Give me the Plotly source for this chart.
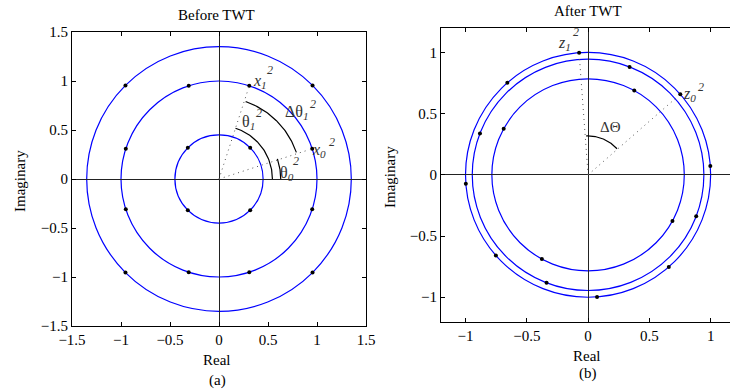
import numpy as np
import plotly.graph_objects as go

# ---------------- data ----------------
# (a) Before TWT
a_circle_radii = [0.45, 1.0, 1.35]
a_point_radius = [0.45, 0.45, 0.45, 0.45,
                  1.0, 1.0, 1.0, 1.0, 1.0, 1.0, 1.0, 1.0,
                  1.35, 1.35, 1.35, 1.35]
a_point_angle = [45, 135, 225, 315,
                 18, 72, 108, 162, 198, 252, 288, 342,
                 45, 135, 225, 315]
a_ray_angle = [18, 72]          # dotted rays to x0^2, x1^2
a_ray_len = [0.97, 0.97]
a_arc_radius = [0.545, 0.63, 0.835]   # theta1, theta0, dtheta1
a_arc_start = [0, 0, 19]
a_arc_end = [72, 19, 71]

# (b) After TWT
b_circle_radii = [0.785, 0.945, 1.0]
b_point_radius = [1.0] * 8 + [0.945] * 4 + [0.785] * 4
b_point_angle = [4.2, 41.2, 94.2, 131.2, 184.2, 221.2, 274.2, 311.2,
                 69, 159, 249, 339,
                 61.3, 151.3, 241.3, 331.3]
b_ray_angle = [41.2, 94.2]
b_ray_len = [0.96, 0.97]
b_arc_radius = [0.318]
b_arc_start = [42]
b_arc_end = [93]

a_ticks = [-1.5, -1, -0.5, 0, 0.5, 1, 1.5]
a_ticktext = ["\u22121.5", "\u22121", "\u22120.5", "0", "0.5", "1", "1.5"]
b_ticks = [-1, -0.5, 0, 0.5, 1]
b_ticktext = ["\u22121", "\u22120.5", "0", "0.5", "1"]

# ---------------- figure ----------------
FONT = "Liberation Serif"
W, H = 730, 390
BLUE = "#0000ff"
fig = go.Figure()


def polar(r, ang):
    r = np.asarray(r, float)
    t = np.deg2rad(np.asarray(ang, float))
    return r * np.cos(t), r * np.sin(t)


def add_panel(xa, ya, radii, pr, pa, ray_ang, ray_len, arc_r, arc_s, arc_e):
    for r in radii:
        fig.add_shape(type="circle", xref=xa, yref=ya, x0=-r, y0=-r, x1=r, y1=r,
                      line=dict(color=BLUE, width=1.2), layer="below")
    for ang, ln in zip(ray_ang, ray_len):
        x, y = polar([0, ln], [ang, ang])
        fig.add_trace(go.Scatter(x=x, y=y, mode="lines", xaxis=xa, yaxis=ya,
                                 line=dict(color="#555", width=1, dash="1px,4px"),
                                 hoverinfo="skip", showlegend=False))
    for r, s, e in zip(arc_r, arc_s, arc_e):
        t = np.linspace(s, e, 60)
        x, y = polar(np.full_like(t, r), t)
        fig.add_trace(go.Scatter(x=x, y=y, mode="lines", xaxis=xa, yaxis=ya,
                                 line=dict(color="black", width=1.2),
                                 hoverinfo="skip", showlegend=False))
    x, y = polar(pr, pa)
    fig.add_trace(go.Scatter(x=x, y=y, mode="markers", xaxis=xa, yaxis=ya,
                             marker=dict(color="black", size=4),
                             showlegend=False))


add_panel("x", "y", a_circle_radii, a_point_radius, a_point_angle,
          a_ray_angle, a_ray_len, a_arc_radius, a_arc_start, a_arc_end)
add_panel("x2", "y2", b_circle_radii, b_point_radius, b_point_angle,
          b_ray_angle, b_ray_len, b_arc_radius, b_arc_start, b_arc_end)

TICK = 15
axis_common = dict(showgrid=False, zeroline=True, zerolinecolor="#222",
                   zerolinewidth=1, showline=True, linecolor="black",
                   linewidth=1, ticks="inside", ticklen=4, tickcolor="black",
                   tickfont=dict(family=FONT, size=TICK, color="black"),
                   automargin=False, fixedrange=True)

fig.update_layout(
    width=W, height=H, margin=dict(l=0, r=0, t=0, b=0, autoexpand=False),
    paper_bgcolor="white", plot_bgcolor="white",
    font=dict(family=FONT, size=TICK, color="black"),
    xaxis=dict(axis_common, domain=[72 / W, 366 / W], range=[-1.5, 1.5],
               tickmode="array", tickvals=a_ticks, ticktext=a_ticktext,
               mirror="ticks", anchor="y"),
    yaxis=dict(axis_common, domain=[1 - 326 / H, 1 - 32 / H], range=[-1.5, 1.5],
               tickmode="array", tickvals=a_ticks, ticktext=a_ticktext,
               mirror="ticks", anchor="x"),
    xaxis2=dict(axis_common, domain=[441 / W, 1.0], range=[-1.2, 1.158],
                tickmode="array", tickvals=b_ticks, ticktext=b_ticktext,
                mirror="ticks", anchor="y2"),
    yaxis2=dict(axis_common, domain=[1 - 321.7 / H, 1 - 28 / H], range=[-1.2, 1.2],
                tickmode="array", tickvals=b_ticks, ticktext=b_ticktext,
                mirror=False, anchor="x2"),
)


def ann(text, x, y, xref="paper", yref="paper", size=TICK, angle=0, color="black"):
    fig.add_annotation(text=text, x=x, y=y, xref=xref, yref=yref, showarrow=False,
                       textangle=angle, xanchor="center", yanchor="middle",
                       font=dict(family=FONT, size=size, color=color))


# titles & axis labels (paper pixel positions)
ann("Before TWT", 216.7 / W, 1 - 15 / H, size=15)
ann("After TWT", 588.3 / W, 1 - 11 / H, size=15)
ann("Real", 216.7 / W, 1 - 360 / H)
ann("(a)", 217 / W, 1 - 380 / H)
ann("Real", 586.7 / W, 1 - 356 / H)
ann("(b)", 587.7 / W, 1 - 373 / H)
ann("Imaginary", 20 / W, 1 - 181 / H, angle=-90)
ann("Imaginary", 390 / W, 1 - 177 / H, angle=-90)

LBL = "#333"
BIG, SUP = 16, 12
# panel (a) symbol labels
ann("<i>x</i><sub><i>1</i></sub>", 0.42, 1.00, "x", "y", size=BIG, color=LBL)
ann("<i>2</i>", 0.52, 1.11, "x", "y", size=SUP, color=LBL)
ann("\u0394\u03b8<sub><i>1</i></sub>", 0.80, 0.68, "x", "y", size=BIG, color=LBL)
ann("<i>2</i>", 0.96, 0.77, "x", "y", size=SUP, color=LBL)
ann("\u03b8<sub><i>1</i></sub>", 0.30, 0.58, "x", "y", size=BIG, color=LBL)
ann("<i>2</i>", 0.41, 0.67, "x", "y", size=SUP, color=LBL)
ann("\u03b8<sub><i>0</i></sub>", 0.69, 0.06, "x", "y", size=BIG, color=LBL)
ann("<i>2</i>", 0.79, 0.18, "x", "y", size=SUP, color=LBL)
ann("<i>x</i><sub><i>0</i></sub>", 1.02, 0.29, "x", "y", size=BIG, color=LBL)
ann("<i>2</i>", 1.15, 0.38, "x", "y", size=SUP, color=LBL)

# panel (b) symbol labels
ann("<i>z</i><sub><i>1</i></sub>", -0.19, 1.07, "x2", "y2", size=BIG, color=LBL)
ann("<i>2</i>", -0.095, 1.166, "x2", "y2", size=SUP, color=LBL)
ann("<i>z</i><sub><i>0</i></sub>", 0.83, 0.66, "x2", "y2", size=BIG, color=LBL)
ann("<i>2</i>", 0.92, 0.72, "x2", "y2", size=SUP, color=LBL)
ann("\u0394\u0398", 0.18, 0.39, "x2", "y2", size=15, color=LBL)

fig.write_html(
    "out.html",
    config={"displayModeBar": False, "staticPlot": True},
    post_script="document.body.style.margin='0';document.body.style.padding='0';"
                "document.body.style.overflow='hidden';",
)
